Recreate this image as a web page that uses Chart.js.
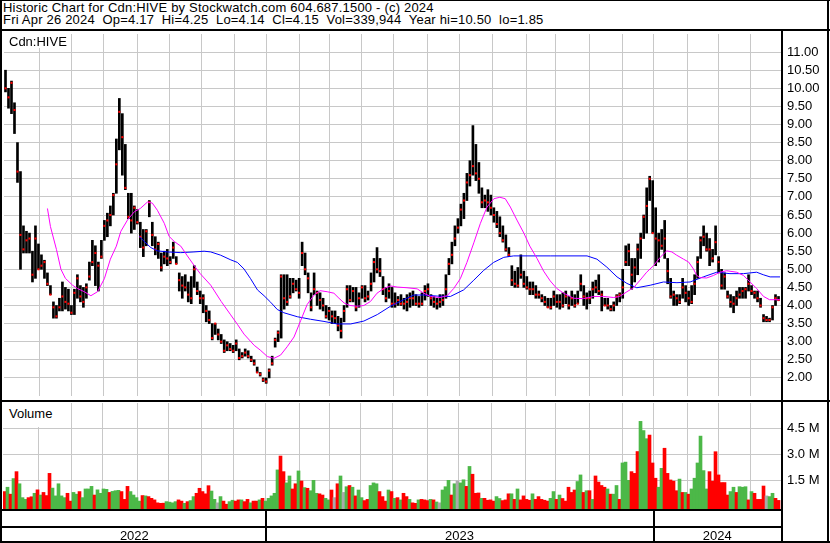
<!DOCTYPE html>
<html><head><meta charset="utf-8">
<script src="https://cdn.jsdelivr.net/npm/chart.js@4.4.1/dist/chart.umd.min.js"></script>
<style>
html,body{margin:0;padding:0;background:#fff;}
#wrap{position:relative;width:830px;height:543px;overflow:hidden;background:#fff;font-family:"Liberation Sans",Arial,sans-serif;font-size:13px;color:#000;}
.t{position:absolute;white-space:pre;line-height:13px;}
.h{letter-spacing:0.2px;}
.k{position:absolute;background:#000;}
.box{position:absolute;background:#fff;}
canvas{position:absolute;left:0;}
</style></head><body>
<div id="wrap">
<canvas id="pc" width="830" height="370" style="top:30px"></canvas>
<canvas id="vc" width="830" height="109" style="top:400px"></canvas>
<div class="t h" style="left:3px;top:1px">Historic Chart for Cdn:HIVE by Stockwatch.com 604.687.1500 - (c) 2024</div>
<div class="t h" style="left:3px;top:13px">Fri Apr 26 2024  Op=4.17  Hi=4.25  Lo=4.14  Cl=4.15  Vol=339,944  Year hi=10.50  lo=1.85</div>
<div class="box" style="left:2px;top:31px;width:68px;height:17px"></div>
<div class="t" style="left:9px;top:35px">Cdn:HIVE</div>
<div class="box" style="left:2px;top:402px;width:68px;height:25px"></div>
<div class="t" style="left:9px;top:407px">Volume</div>
<div class="k" style="left:0;top:0;width:830px;height:1px"></div>
<div class="k" style="left:0;top:0;width:2px;height:543px"></div>
<div class="k" style="left:827px;top:0;width:2px;height:543px"></div>
<div class="k" style="left:0;top:541px;width:830px;height:2px"></div>
<div class="k" style="left:0;top:29px;width:830px;height:2px"></div>
<div class="k" style="left:781px;top:29px;width:2px;height:514px"></div>
<div class="k" style="left:0;top:400px;width:830px;height:2px"></div>
<div class="k" style="left:0;top:509px;width:783px;height:2px"></div>
<div class="k" style="left:0;top:526px;width:783px;height:2px"></div>
</div>
<script>
// ---- data ----
const hi = [10.5,10.0,10.2,9.6,8.5,7.7,6.2,6.05,6.0,5.5,6.2,5.7,5.4,5.25,4.9,4.55,4.1,4.0,4.2,4.65,4.5,4.45,4.0,4.45,4.85,4.55,4.5,4.6,5.2,5.8,5.65,5.2,5.8,6.35,6.55,6.75,7.1,8.6,9.72,9.3,8.45,7.1,7.1,6.75,6.65,6.3,6.1,6.1,6.9,6.3,5.9,5.75,5.45,5.5,5.55,5.35,5.75,5.35,4.9,4.8,4.85,4.65,4.8,5.1,4.65,4.4,4.3,4.0,3.85,3.5,3.5,3.35,3.2,3.05,3.0,2.95,2.9,3.05,2.8,2.7,2.8,2.75,2.6,2.5,2.3,2.15,2.0,2.0,2.25,2.6,3.1,3.3,4.85,
4.85,4.85,4.75,4.75,4.7,4.75,5.75,5.45,4.9,4.35,4.9,4.4,4.35,4.2,4.0,3.95,3.85,3.85,3.7,3.65,4.0,4.55,4.55,4.5,4.5,4.35,4.55,4.55,4.4,4.9,5.3,5.6,5.3,4.8,4.5,4.6,4.5,4.35,4.25,4.3,4.2,4.3,4.35,4.4,4.3,4.25,4.35,4.55,4.6,4.3,4.25,4.2,4.3,4.3,4.85,5.3,5.75,6.2,6.4,6.8,7.1,7.65,8.0,8.97,8.45,7.95,7.25,7.05,7.2,7.05,6.7,6.6,6.45,6.2,5.95,5.6,5.1,4.95,5.05,5.4,4.95,4.8,4.65,4.65,4.55,4.4,4.3,4.25,4.2,
4.2,4.4,4.3,4.3,4.35,4.4,4.25,4.4,4.3,4.4,4.85,4.55,4.35,4.4,4.65,4.7,4.85,4.4,4.2,4.2,4.0,4.1,4.3,4.35,5.0,5.65,5.7,5.3,5.3,5.7,6.0,6.5,7.25,7.57,7.45,6.7,6.0,6.1,6.35,5.3,4.75,4.4,4.3,4.3,4.75,4.55,4.4,4.55,4.85,5.35,5.9,6.2,6.0,5.85,5.55,6.2,5.35,5.0,4.9,4.4,4.3,4.25,4.4,4.5,4.5,4.5,4.85,4.55,4.4,4.4,4.2,3.75,3.7,3.65,4.0,4.3,4.25];
const lo = [9.9,9.45,9.3,8.75,7.4,5.0,5.45,5.45,5.45,4.65,4.75,5.0,5.0,4.75,4.55,4.3,3.65,3.65,3.85,3.85,3.9,3.85,3.75,3.75,4.2,4.1,3.95,4.2,4.7,5.1,4.55,4.4,5.3,5.8,5.9,6.2,6.5,7.1,8.3,7.6,7.2,6.4,6.0,6.1,6.25,5.6,5.35,5.65,6.45,5.65,5.4,5.3,4.95,5.15,5.1,5.15,5.3,5.15,4.4,4.2,4.4,4.1,4.05,4.5,4.3,4.05,3.8,3.55,3.5,3.05,3.2,3.05,2.95,2.7,2.75,2.75,2.7,2.75,2.5,2.55,2.6,2.55,2.45,2.35,2.15,2.05,1.9,1.85,2.0,2.35,2.85,3.0,3.1,
3.9,4.0,4.2,4.35,4.4,4.2,5.1,4.85,4.35,3.85,4.3,4.0,3.9,3.85,3.65,3.6,3.5,3.5,3.3,3.1,3.55,3.95,4.1,4.1,3.85,3.95,4.2,4.1,4.15,4.4,4.65,4.9,4.8,4.3,4.1,4.2,3.95,3.95,4.0,4.0,3.9,3.85,3.95,4.0,4.0,3.95,4.0,4.15,4.25,4.0,3.95,3.9,3.95,4.0,4.2,4.85,5.15,5.65,6.0,6.2,6.4,6.9,7.3,7.6,7.45,7.1,6.7,6.7,6.6,6.5,6.3,6.15,5.9,5.75,5.5,5.35,4.55,4.5,4.5,4.75,4.5,4.45,4.3,4.3,4.2,4.2,4.1,4.0,3.95,
3.9,4.0,3.95,3.9,3.95,4.05,3.9,4.0,3.95,4.05,4.4,4.0,3.9,4.05,4.2,4.35,4.3,3.85,4.0,3.9,3.85,3.85,4.0,4.1,4.2,5.1,5.1,4.45,4.65,4.85,5.3,5.85,6.0,6.9,6.0,5.1,5.2,5.55,5.3,4.6,4.2,4.0,4.0,4.05,4.2,4.1,4.0,4.05,4.3,4.75,5.3,5.65,5.5,5.1,5.2,5.4,4.9,4.45,4.45,4.2,3.95,3.8,4.0,4.2,4.2,4.2,4.4,4.3,4.2,4.1,3.95,3.55,3.55,3.55,3.6,4.0,4.14];
const cl = [10.0,9.75,10.15,9.4,7.7,5.95,5.55,5.8,5.85,4.85,5.85,5.0,5.1,5.2,4.6,4.3,3.95,3.7,3.95,4.25,4.1,4.05,3.8,4.35,4.75,4.25,4.1,4.5,4.8,5.2,5.45,5.1,5.35,6.2,6.35,6.5,7.05,7.9,9.35,8.65,7.25,6.45,6.35,6.7,6.3,5.9,5.6,6.05,6.85,5.95,5.55,5.7,5.05,5.35,5.3,5.2,5.6,5.15,4.7,4.55,4.5,4.3,4.2,5.0,4.4,4.2,4.2,3.85,3.6,3.1,3.5,3.2,3.0,2.75,2.9,2.8,2.75,2.95,2.55,2.6,2.7,2.6,2.5,2.4,2.15,2.1,1.95,1.9,2.2,2.4,3.05,3.25,4.8,
4.2,4.1,4.25,4.6,4.45,4.35,5.45,5.0,4.75,3.95,4.45,4.35,4.15,4.0,3.7,3.85,3.7,3.65,3.45,3.3,3.85,4.45,4.15,4.4,3.95,4.2,4.5,4.2,4.25,4.6,5.2,5.0,4.95,4.45,4.2,4.4,4.05,4.05,4.15,4.05,4.05,4.1,4.2,4.2,4.05,4.05,4.05,4.4,4.45,4.2,4.1,4.05,4.1,4.15,4.45,5.15,5.4,5.85,6.15,6.65,6.9,7.4,7.6,7.85,7.65,7.5,6.85,6.9,6.85,6.7,6.5,6.25,6.0,5.8,5.55,5.4,4.7,4.6,4.55,4.85,4.6,4.5,4.45,4.45,4.3,4.3,4.2,4.1,3.95,
3.95,4.25,4.1,4.1,4.0,4.25,4.0,4.2,4.0,4.05,4.6,4.25,4.2,4.2,4.45,4.5,4.4,4.3,4.0,4.0,3.9,4.0,4.25,4.3,4.5,5.2,5.5,4.85,5.05,5.55,5.85,6.45,6.75,7.5,6.0,5.85,5.8,5.65,5.85,4.95,4.25,4.3,4.2,4.1,4.5,4.35,4.2,4.1,4.6,5.2,5.8,5.9,5.55,5.55,5.3,5.75,5.2,4.55,4.8,4.25,4.1,4.05,4.2,4.3,4.4,4.45,4.6,4.4,4.35,4.2,4.0,3.65,3.6,3.6,3.95,4.2,4.15];
const vol = [0.85,1.1,0.7,1.6,2.0,1.3,0.5,0.4,0.5,0.55,0.75,0.95,0.65,0.8,0.62,1.9,1.05,0.6,1.3,0.6,0.5,0.75,0.3,0.8,0.7,0.85,0.5,1.0,1.0,1.15,0.65,0.95,0.75,1.0,0.98,0.8,0.86,0.9,0.92,0.85,0.4,1.15,0.85,0.65,0.5,0.3,0.62,0.6,0.56,0.46,0.37,0.2,0.17,0.18,0.27,0.24,0.2,0.27,0.37,0.3,0.17,0.27,0.33,0.56,0.75,1.04,0.85,0.72,1.19,0.88,0.4,0.2,0.56,0.3,0.12,0.27,0.35,0.3,0.37,0.37,0.27,0.4,0.2,0.3,0.3,0.37,0.46,0.3,0.46,0.6,0.75,2.1,2.9,
2.0,1.35,1.75,1.0,1.3,2.04,1.46,1.08,1.04,0.9,1.5,0.75,0.72,0.65,0.46,0.37,0.94,0.5,1.3,1.75,0.8,1.13,1.2,1.1,0.6,0.94,0.5,0.33,0.4,1.2,1.35,1.3,0.85,0.56,0.3,0.94,0.85,0.46,0.5,0.37,0.75,0.56,0.4,0.2,0.17,0.37,0.4,0.37,0.33,0.4,0.37,0.25,0.2,0.94,1.13,1.5,0.65,1.3,1.46,1.35,1.53,1.15,2.3,1.85,0.75,0.77,0.46,0.46,0.35,0.37,0.3,0.56,0.45,0.33,0.37,0.72,0.72,0.4,1.0,0.37,0.6,0.4,0.35,0.72,0.4,0.56,0.4,0.35,0.3,
0.46,0.85,0.4,0.65,0.45,0.3,1.1,0.8,0.94,1.43,1.81,0.8,0.9,0.9,0.4,1.75,1.4,1.2,1.1,1.0,0.7,0.7,1.2,0.4,2.5,2.55,1.5,2.0,1.9,3.16,4.9,4.37,3.9,4.11,2.5,1.62,1.1,2.19,3.35,1.9,1.52,1.45,0.9,1.57,0.8,0.8,0.7,1.0,1.62,2.5,4.05,2.06,1.0,2.0,1.45,3.15,1.81,1.37,1.37,0.65,0.85,1.1,0.8,1.13,1.1,1.13,0.37,0.85,0.75,0.4,0.4,1.17,0.6,0.56,0.75,0.46,0.34];
const volDir = ['d','u','d','u','d','u','u','u','d','d','u','d','u','d','d','d','u','u','u','u','u','d','d','u','u','d','u','u','u','u','d','u','u','u','u','d','u','u','u','d','d','d','u','u','u','u','d','u','d','d','d','d','d','d','u','u','u','u','d','d','u','d','u','u','d','d','d','d','d','u','u','n','u','d','d','u','u','d','d','u','d','d','u','d','d','u','d','u','u','u','u','u','d',
'd','u','u','d','d','u','d','u','d','u','u','u','d','d','u','u','d','n','d','u','n','u','d','u','d','u','u','d','d','u','u','u','d','d','d','u','d','u','d','u','d','d','u','d','d','u','d','d','d','u','d','u','n','u','u','u','d','u','n','u','u','d','u','d','d','d','u','d','d','d','d','u','u','d','d','d','u','d','u','d','d','d','d','u','d','d','d','d','d',
'u','u','d','u','d','d','d','d','d','u','u','d','u','d','u','d','d','d','d','u','d','u','u','d','u','u','u','d','d','d','u','u','u','d','d','d','u','u','d','d','d','d','d','u','d','u','d','u','u','u','u','u','u','d','d','d','d','d','d','d','u','u','d','u','u','u','d','u','d','d','d','d','n','u','u','d','d'];
const maFastIdx = [14,15,17,18.5,20,22.4,24,26.3,28.5,30.7,33,35,37,38.5,40.7,43,45,47.4,49,50.7,53,54.6,56.3,58.5,60.7,63,65,68.5,72,75,77.4,79.6,83,85,87.4,89.6,91.8,94,96.3,98.5,100.7,103,105,107.4,109.6,111.3,113,115,117.4,119.6,121.8,124,126.3,128.5,130.7,134,137.4,139.6,141.8,145,147.4,149.6,151.8,154,156.3,158.5,160.7,163,165,166.8,168.5,170.7,173,175,177.4,179.6,181.8,184,186.3,189.6,193,196.3,199.6,203,205,207.4,209.6,211.8,214,216.3,218.5,220.7,222.4,224,226.3,228,229.6,230.7,231.8,234,236.3,238.5,240.7,244,246.3,248.5,250.7,253,255,258.5];
const maFastVal = [6.68,6.18,5.55,5.0,4.75,4.56,4.47,4.38,4.27,4.38,4.74,5.28,5.64,6.05,6.36,6.59,6.68,6.86,6.83,6.63,6.27,5.91,5.77,5.64,5.37,5.10,4.88,4.56,4.11,3.76,3.48,3.21,2.90,2.77,2.59,2.54,2.63,2.86,3.13,3.58,4.03,4.29,4.41,4.38,4.34,4.20,4.07,4.0,3.98,4.0,4.11,4.34,4.47,4.54,4.51,4.49,4.46,4.34,4.25,4.22,4.27,4.47,4.74,5.19,5.73,6.27,6.72,6.95,6.99,6.95,6.72,6.36,6.0,5.64,5.3,4.95,4.68,4.47,4.34,4.2,4.19,4.25,4.25,4.22,4.25,4.38,4.49,4.7,4.92,5.1,5.33,5.51,5.48,5.39,5.28,5.2,5.01,4.83,4.77,4.76,4.83,4.92,4.96,4.92,4.83,4.65,4.47,4.25,4.16,4.16];
const maSlowIdx = [44.6,46.3,48.5,50.7,54.1,58.5,62.9,66.3,68.5,71.8,75.2,77.4,79.6,81.8,84.1,86.3,88.5,90.7,92.9,97.4,101.8,106.3,110.7,115.2,119.6,124.1,128.5,132.9,136.3,139.6,144.1,148.5,152.9,156.3,159.6,162.9,166.3,169.6,181.8,194.1,197.4,200.7,204.1,207.4,210.7,215.2,219.6,224.1,228.5,232.9,237.4,241.8,246.3,250.7,252.9,255.2,258.5];
const maSlowVal = [5.91,5.77,5.6,5.51,5.48,5.46,5.48,5.5,5.48,5.39,5.26,5.19,5.01,4.74,4.43,4.27,4.09,3.89,3.8,3.69,3.62,3.56,3.49,3.49,3.57,3.75,3.98,4.16,4.29,4.29,4.26,4.25,4.43,4.7,4.97,5.19,5.33,5.37,5.37,5.37,5.28,5.06,4.79,4.61,4.49,4.56,4.65,4.63,4.65,4.79,4.92,4.88,4.88,4.92,4.85,4.79,4.79];
const monthTicks = [11.27,22.17,32.6,44.17,54.6,65.5,76.27,87.07,98.27,108.27,118.83,129.4,140.93,151.4,162.4,173.73,183.6,194.93,205.93,216.27,227.6,238.07,248.73];
const monthNames = ['Jun','Jul','Aug','Sep','Oct','Nov','Dec','Jan','Feb','Mar','Apr','May','Jun','Jul','Aug','Sep','Oct','Nov','Dec','Jan','Feb','Mar','Apr'];
const years = ['2022','2023','2024'];
const priceTicks = [2,2.5,3,3.5,4,4.5,5,5.5,6,6.5,7,7.5,8,8.5,9,9.5,10,10.5,11];
const volTicks = [1.5,3.0,4.5];

// ---- rendering ----
const GRID = '#c8c8c8';
const TXT = '#000';
const FONT = {family:'"Liberation Sans", Arial, sans-serif', size:13};
const X_MIN = -0.5, X_MAX = 258.83;
const V_MIN = -0.156, V_MAX = 5.96;
const volColors = {u:'#4cb848', d:'#ff0000', n:'#aaaaaa'};

function xScale(){
  return {type:'linear', min:X_MIN, max:X_MAX, offset:false,
    ticks:{display:false}, grid:{color:GRID, lineWidth:1, drawTicks:false, offset:false}, border:{display:false},
    afterBuildTicks:s=>{ s.ticks = monthTicks.map(v=>({value:v})); },
    afterFit:s=>{ s.height=0; s.paddingLeft=0; s.paddingRight=0; }};
}
function yScale(min, max, ticks, fmt){
  return {type:'linear', position:'right', min, max,
    ticks:{color:TXT, font:FONT, padding:6, autoSkip:false, callback:v=>fmt(v)},
    grid:{color:GRID, lineWidth:1, drawTicks:false}, border:{display:false},
    afterBuildTicks:s=>{ s.ticks = ticks.map(v=>({value:v})); },
    afterFit:s=>{ s.width=49; s.paddingTop=0; s.paddingBottom=0; }};
}
const common = {responsive:false, animation:false, events:[], devicePixelRatio:1,
  plugins:{legend:{display:false}, tooltip:{enabled:false}, title:{display:false}}};

const hlData = hi.map((h,i)=>({x:i, y:[lo[i], h]}));
const clData = cl.map((c,i)=>({x:i, y:c}));
const fastData = maFastIdx.map((x,k)=>({x, y:maFastVal[k]}));
const slowData = maSlowIdx.map((x,k)=>({x, y:maSlowVal[k]}));

new Chart(document.getElementById('pc'), {
  type:'bar',
  data:{datasets:[
    {type:'line', data:fastData, borderColor:'#ff00ff', borderWidth:1, pointRadius:0, tension:0, order:0},
    {type:'line', data:slowData, borderColor:'#0000ff', borderWidth:1, pointRadius:0, tension:0, order:0},
    {type:'line', data:clData, showLine:false, pointStyle:'rect', pointRadius:1.45, pointBorderWidth:0, pointBackgroundColor:'#ff0000', order:1},
    {type:'bar', data:hlData, backgroundColor:'#000', barThickness:2, order:2}
  ]},
  options:Object.assign({}, common, {
    layout:{padding:{left:3, right:0, top:0, bottom:0}},
    scales:{x:xScale(), y:yScale(1.5, 11.5, priceTicks, v=>v.toFixed(2))}
  })
});

const volData = vol.map((v,i)=>({x:i, y:v}));
const vchart = new Chart(document.getElementById('vc'), {
  type:'bar',
  data:{datasets:[
    {type:'bar', data:volData, base:V_MIN, backgroundColor:volDir.map(d=>volColors[d]), barThickness:3, order:0}
  ]},
  options:Object.assign({}, common, {
    layout:{padding:{left:3, right:0, top:3, bottom:0}},
    scales:{x:xScale(), y:yScale(V_MIN, V_MAX, volTicks, v=>v.toFixed(1)+' M')}
  })
});

// year band drawn from the x scale
const xs = vchart.scales.x;
const wrap = document.getElementById('wrap');
const breaks = monthTicks.filter((v,k)=>monthNames[k]==='Jan').map(v=>xs.getPixelForValue(v));
const edges = [vchart.chartArea.left].concat(breaks, [vchart.chartArea.right]);
breaks.forEach(px=>{
  const d=document.createElement('div'); d.className='k';
  d.style.cssText='left:'+Math.floor(px)+'px;top:509px;width:2px;height:33px';
  wrap.appendChild(d);
});
years.forEach((y,k)=>{
  const c=(edges[k]+edges[k+1])/2;
  const d=document.createElement('div'); d.className='t';
  d.style.cssText='left:'+(c-50)+'px;top:529px;width:100px;text-align:center';
  d.textContent=y; wrap.appendChild(d);
});
</script>
</body></html>
